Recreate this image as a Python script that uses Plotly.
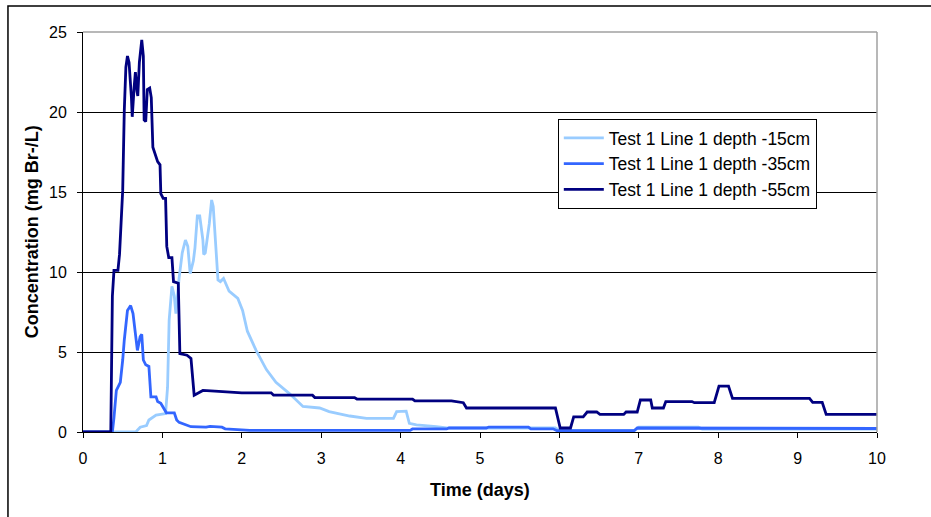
import plotly.graph_objects as go

# Bromide tracer breakthrough, Test 1 Line 1, three sampling depths
t_15 = [0, 0.665, 0.72, 0.80, 0.83, 0.92, 1.04, 1.065, 1.085, 1.12, 1.15, 1.17, 1.21, 1.25,
        1.29, 1.32, 1.35, 1.39, 1.41, 1.44, 1.47, 1.51, 1.52, 1.54, 1.59, 1.62, 1.64, 1.675,
        1.70, 1.73, 1.77, 1.84, 1.95, 2.01, 2.07, 2.18, 2.31, 2.43, 2.60, 2.77, 2.98, 3.10,
        3.36, 3.57, 3.91, 3.95, 4.07, 4.11, 4.20, 4.45, 4.58, 5.95, 6.00, 6.95, 7.00, 7.75,
        7.80, 10.0]
c_15 = [0, 0, 0.3, 0.4, 0.75, 1.06, 1.15, 2.8, 7.0, 9.1, 8.5, 7.4, 9.6, 11.2,
        12.0, 11.6, 9.9, 10.7, 11.5, 13.5, 13.5, 12.0, 11.1, 11.2, 13.0, 14.5, 14.1, 11.6,
        9.5, 9.4, 9.6, 8.8, 8.35, 7.6, 6.3, 5.1, 3.9, 3.1, 2.4, 1.6, 1.5, 1.27,
        1.0, 0.85, 0.85, 1.27, 1.3, 0.54, 0.45, 0.33, 0.25, 0.25, 0.1, 0.1, 0.3, 0.3,
        0.18, 0.18]

t_35 = [0, 0.37, 0.39, 0.42, 0.45, 0.47, 0.50, 0.52, 0.56, 0.60, 0.63, 0.665, 0.685, 0.72,
        0.74, 0.76, 0.79, 0.83, 0.855, 0.92, 0.94, 0.98, 1.02, 1.05, 1.15, 1.18, 1.21, 1.36,
        1.55, 1.60, 1.75, 1.79, 2.10, 4.12, 4.15, 4.58, 4.61, 5.08, 5.11, 5.61, 5.64, 5.92,
        5.97, 6.94, 6.98, 10.0]
c_35 = [0, 0, 0.9, 2.6, 2.9, 3.1, 4.5, 5.75, 7.6, 7.9, 7.4, 5.75, 5.1, 5.96,
        6.1, 4.5, 4.2, 4.1, 2.2, 2.2, 1.9, 1.8, 1.5, 1.2, 1.2, 0.75, 0.6, 0.33,
        0.3, 0.35, 0.3, 0.2, 0.1, 0.1, 0.19, 0.19, 0.25, 0.25, 0.31, 0.31, 0.2, 0.2,
        0.08, 0.08, 0.25, 0.22]

t_55 = [0, 0.35, 0.37, 0.39, 0.44, 0.46, 0.48, 0.50, 0.52, 0.54, 0.56, 0.58, 0.61, 0.62,
        0.645, 0.66, 0.68, 0.69, 0.71, 0.74, 0.76, 0.77, 0.79, 0.81, 0.84, 0.86, 0.88, 0.91,
        0.94, 0.97, 0.98, 1.01, 1.04, 1.055, 1.08, 1.12, 1.14, 1.20, 1.22, 1.31, 1.36, 1.40,
        1.44, 1.51, 1.66, 2.00, 2.37, 2.40, 2.89, 2.92, 3.42, 3.45, 4.15, 4.18, 4.64, 4.79,
        4.83, 5.95, 6.01, 6.14, 6.18, 6.30, 6.35, 6.47, 6.51, 6.81, 6.84, 6.98, 7.02, 7.15,
        7.17, 7.31, 7.34, 7.67, 7.70, 7.95, 8.01, 8.13, 8.18, 9.15, 9.19, 9.31, 9.36, 10.0]
c_55 = [0, 0, 8.5, 10.1, 10.1, 11.1, 13.1, 15.1, 20.1, 22.8, 23.5, 23.1, 20.9, 19.7,
        21.6, 22.5, 21.3, 21.0, 23.1, 24.5, 23.5, 19.5, 19.4, 21.4, 21.5, 20.9, 17.8, 17.4,
        16.9, 16.7, 14.9, 14.6, 14.6, 11.6, 10.9, 10.9, 9.4, 9.3, 4.9, 4.8, 4.6, 2.3,
        2.4, 2.6, 2.55, 2.45, 2.45, 2.3, 2.3, 2.15, 2.15, 2.06, 2.06, 1.94, 1.94, 1.83,
        1.5, 1.5, 0.25, 0.25, 0.95, 0.95, 1.25, 1.25, 1.1, 1.1, 1.25, 1.25, 2.0, 2.0,
        1.5, 1.5, 1.9, 1.9, 1.83, 1.83, 2.87, 2.87, 2.1, 2.1, 1.85, 1.85, 1.1, 1.1]

series = [
    ("Test 1 Line 1 depth -15cm", t_15, c_15, "#99CCFF"),
    ("Test 1 Line 1 depth -35cm", t_35, c_35, "#3366FF"),
    ("Test 1 Line 1 depth -55cm", t_55, c_55, "#000080"),
]

x_ticks = list(range(0, 11))
y_ticks = [0, 5, 10, 15, 20, 25]

FONT = "Arial, Liberation Sans, sans-serif"

fig = go.Figure()
for i, (name, t, c, col) in enumerate(series):
    fig.add_trace(go.Scatter(x=t, y=c, mode="lines", name=name, legendgroup=f"g{i}",
                             line=dict(color=col, width=2.8)))

fig.update_layout(
    width=931, height=517,
    margin=dict(l=83, r=54, t=32, b=85),
    paper_bgcolor="white", plot_bgcolor="white",
    font=dict(family=FONT, size=16, color="black"),
    showlegend=True,
    legend=dict(x=0.598, y=0.7825, xanchor="left", yanchor="top",
                bgcolor="white", bordercolor="black", borderwidth=1,
                font=dict(size=17.5), itemwidth=40, tracegroupgap=0),
    xaxis=dict(range=[0, 10], tickvals=x_ticks, ticks="outside", ticklen=5,
               tickcolor="black", showline=True, linecolor="black", linewidth=1,
               showgrid=False, zeroline=False, tickfont=dict(size=16),
               ticklabelstandoff=7),
    yaxis=dict(range=[0, 25], tickvals=y_ticks, ticks="outside", ticklen=5,
               tickcolor="black", showline=True, linecolor="black", linewidth=1,
               showgrid=True, gridcolor="black", gridwidth=1, zeroline=False,
               tickfont=dict(size=16), ticklabelstandoff=7),
    annotations=[
        dict(text="<b>Time (days)</b>", xref="paper", yref="paper", x=0.5, y=-0.145,
             xanchor="center", yanchor="middle", showarrow=False, font=dict(size=18)),
        dict(text="<b>Concentration (mg Br-/L)</b>", xref="paper", yref="paper",
             x=-0.064, y=0.5, xanchor="center", yanchor="middle", textangle=-90,
             showarrow=False, font=dict(size=18)),
    ],
    shapes=[
        # plot area frame (top and right)
        dict(type="line", xref="paper", yref="paper", x0=0, x1=1, y0=1, y1=1,
             line=dict(color="#A0A0A0", width=1.5)),
        dict(type="line", xref="paper", yref="paper", x0=1, x1=1, y0=0, y1=1,
             line=dict(color="#A0A0A0", width=1.5)),
        # chart area border
        dict(type="rect", xref="paper", yref="paper", x0=-0.0945, x1=1.08,
             y0=-0.25, y1=1.065, line=dict(color="black", width=1.5)),
    ],
)

fig.write_html("out.html")
